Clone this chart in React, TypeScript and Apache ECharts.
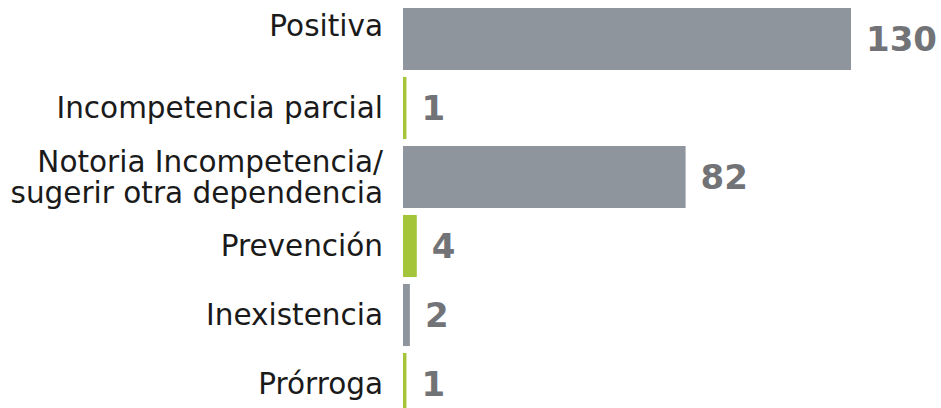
import React, { useEffect, useRef } from "react";
import * as echarts from "echarts";

const categories = [
  "Positiva",
  "Incompetencia parcial",
  "Notoria Incompetencia/\nsugerir otra dependencia",
  "Prevención",
  "Inexistencia",
  "Prórroga",
];
const values = [130, 1, 82, 4, 2, 1];
const barColors = ["#8e959c", "#a4c43a", "#8e959c", "#a4c43a", "#8e959c", "#a4c43a"];

export default function App() {
  const ref = useRef<HTMLDivElement>(null);
  useEffect(() => {
    if (!ref.current) return;
    const chart = echarts.init(ref.current, undefined, { renderer: "svg" });
    chart.setOption({
      animation: false,
      grid: { left: 403, right: 90, top: 4.5, bottom: 0.5 },
      xAxis: {
        type: "value",
        min: 0,
        max: 130,
        show: false,
      },
      yAxis: {
        type: "category",
        data: categories,
        inverse: true,
        axisLine: { show: false },
        axisTick: { show: false },
        axisLabel: {
          margin: 20,
          fontSize: 29.5,
          lineHeight: 31,
          color: "#1a1a1a",
          fontFamily: "DejaVu Sans",
          align: "right",
          formatter: (v: string, i: number) => (i === 0 ? "{up|" + v + "}" : v),
          rich: {
            up: {
              fontSize: 29.5,
              lineHeight: 31,
              color: "#1a1a1a",
              fontFamily: "DejaVu Sans",
              padding: [0, 0, 26, 0],
            },
          },
        },
      },
      series: [
        {
          type: "bar",
          data: values.map((v, i) => ({ value: v, itemStyle: { color: barColors[i] } })),
          barCategoryGap: "10%",
          label: {
            show: true,
            position: "right",
            distance: 15,
            fontSize: 34,
            fontWeight: "bold",
            fontFamily: "DejaVu Sans",
            color: "#727377",
          },
        },
      ],
    });
    return () => chart.dispose();
  }, []);
  return (
    <div style={{ position: "absolute", left: 0, top: 0, width: 941, height: 408, overflow: "hidden" }}>
      <div ref={ref} style={{ width: 941, height: 419 }} />
    </div>
  );
}
